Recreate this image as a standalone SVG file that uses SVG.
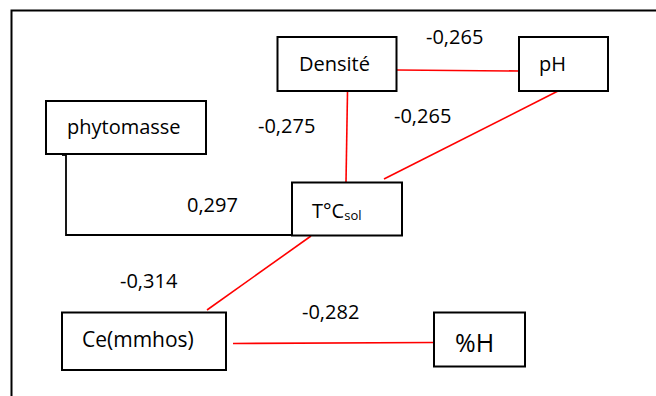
<svg xmlns="http://www.w3.org/2000/svg" width="656" height="396" viewBox="0 0 656 396">
<style>
.box{fill:#fff;stroke:#000;stroke-width:2}
.t{font-family:"Open Sans","Noto Sans",sans-serif;font-size:20px;fill:#000}
.sub{font-size:13px}
.red{stroke:#ff0000;stroke-width:1.6;fill:none}
.blk{stroke:#000;stroke-width:1.8;fill:none}
</style>
<rect width="656" height="396" fill="#fff"/>
<path d="M11.5 396 V10.5 H660" fill="none" stroke="#000" stroke-width="2"/>
<g id="connectors">
<line class="red" x1="397" y1="70" x2="519" y2="71"/>
<line class="red" x1="347.5" y1="92" x2="346" y2="182"/>
<line class="red" x1="558" y1="91" x2="384" y2="179"/>
<line class="red" x1="311" y1="236" x2="207" y2="310"/>
<line class="red" x1="233" y1="343.5" x2="434" y2="342.5"/>
<polyline class="blk" points="66,154 66,235 292,235"/>
<line class="blk" x1="62" y1="155" x2="66" y2="155"/>
<text class="t" x="426" y="44">-0,265</text>
<text class="t" x="394" y="123">-0,265</text>
<text class="t" x="258" y="133">-0,275</text>
<text class="t" x="187" y="212">0,297</text>
<text class="t" x="120" y="288">-0,314</text>
<text class="t" x="302" y="319">-0,282</text>
</g>
<g id="densite">
<rect class="box" x="277.5" y="37" width="119" height="54"/>
<text class="t" x="299" y="71">Densité</text>
</g>
<g id="ph">
<rect class="box" x="519" y="37" width="89" height="54"/>
<text class="t" x="539" y="71">pH</text>
</g>
<g id="phytomasse">
<rect class="box" x="46" y="101" width="160" height="53"/>
<text class="t" x="67" y="134">phytomasse</text>
</g>
<g id="tcsol">
<rect class="box" x="292" y="182.5" width="110" height="53"/>
<text class="t" x="312" y="218">T°C<tspan class="sub" dy="2">sol</tspan></text>
</g>
<g id="ce">
<rect class="box" x="62" y="312.5" width="164" height="57.5"/>
<text class="t" x="82" y="347" style="font-size:21px">Ce(mmhos)</text>
</g>
<g id="h">
<rect class="box" x="434" y="312.5" width="91" height="54"/>
<text class="t" x="455" y="352" style="font-size:25px">%H</text>
</g>
</svg>
